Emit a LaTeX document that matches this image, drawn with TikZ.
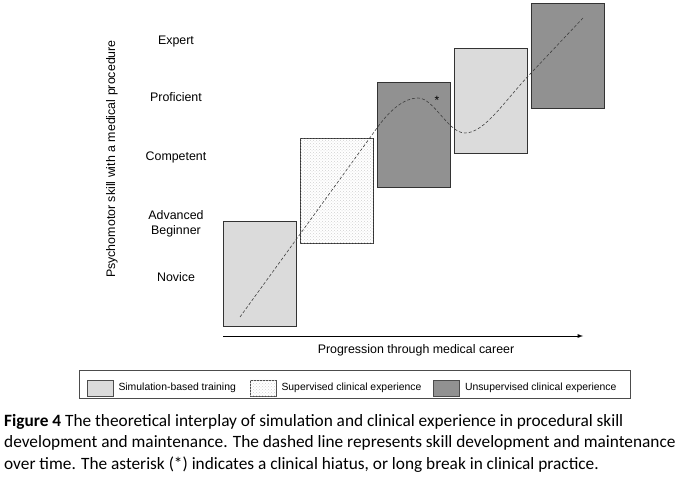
\documentclass[tikz,border=0pt]{standalone}
\usepackage{fontspec}
\setmainfont{Liberation Sans}
\newfontfamily\capfont{Carlito}
\usetikzlibrary{arrows,patterns,positioning}

\begin{document}
\begin{tikzpicture}[x=1pt, y=-1pt,
		box/.style={draw=black!80, line width=0.9pt, minimum width=73pt, minimum height=105pt, inner sep=0pt},
		sim/.style={box, fill=black!14},
		sup/.style={box, fill=white, postaction={pattern=crosshatch dots, pattern color=black!18}},
		unsup/.style={box, fill=black!43},
		level/.style={font=\fontsize{12.4}{15}\selectfont, align=center, inner sep=0pt},
		swatch/.style={draw=black!70, line width=0.6pt, minimum width=26pt, minimum height=16pt, inner sep=0pt},
		key/.style={font=\fontsize{10.4}{12}\selectfont, inner sep=0pt, right=5pt of #1},
		skill/.style={dashed, dash pattern=on 3pt off 2pt, line width=0.6pt, black!75}]
	\useasboundingbox (0,0) rectangle (683,478);
		\node[sim] (B1) at (260,273.5) {};
		\node[sup] (B2) at (336.5,191) {};
		\node[unsup] (B3) at (413.5,134.5) {};
		\node[sim] (B4) at (490.5,101) {};
		\node[unsup] (B5) at (568,56) {};
		\coordinate (S) at (240,317);
		\coordinate (E) at (583,18);
		\draw[skill] (S) -- (377,128) .. controls (390,110) and (404,98) .. (418,98)
			.. controls (434,98) and (448,133) .. (465,133)
			.. controls (485,133) and (505,100) .. (532,72) -- (E);
		\node[font=\fontsize{12}{12}\selectfont, inner sep=0pt] (hiatus) at (437,100) {*};
		\node[level] (nov) at (176,277) {Novice};
		\node[level] (adv) at (176,223.5) {Advanced\\Beginner};
		\node[level] (comp) at (176,157) {Competent};
		\node[level] (prof) at (176,97) {Proficient};
		\node[level] (exp) at (176,42) {Expert};
		\node[level, rotate=90] (skillaxis) at (112,159) {Psychomotor skill with a medical procedure};
		\coordinate (A0) at (223,336);
		\coordinate (A1) at (583,336);
		\draw[-latex, line width=0.9pt] (A0) -- (A1);
		\node[level] (career) at (416,350) {Progression through medical career};
		\node[draw=black!70, line width=0.6pt, minimum width=551pt, minimum height=28pt, inner sep=0pt] (legend) at (355,384) {};
		\node[swatch, fill=black!14] (k1) at (100,388) {};
		\node[key=k1] (t1) {Simulation-based training};
		\node[swatch, fill=white, postaction={pattern=crosshatch dots, pattern color=black!18}] (k2) at (263,388) {};
		\node[key=k2] (t2) {Supervised clinical experience};
		\node[swatch, fill=black!43] (k3) at (446.5,388) {};
		\node[key=k3] (t3) {Unsupervised clinical experience};
		\node[anchor=north west, align=left, inner sep=0pt, font=\capfont\fontsize{17.3}{21.5}\selectfont] (caption) at (4,414)
			{\textbf{Figure 4} The theoretical interplay of simulation and clinical experience in procedural skill\\
			development and maintenance. The dashed line represents skill development and maintenance\\
			over time. The asterisk (*) indicates a clinical hiatus, or long break in clinical practice.};
	\end{tikzpicture}
\end{document}
